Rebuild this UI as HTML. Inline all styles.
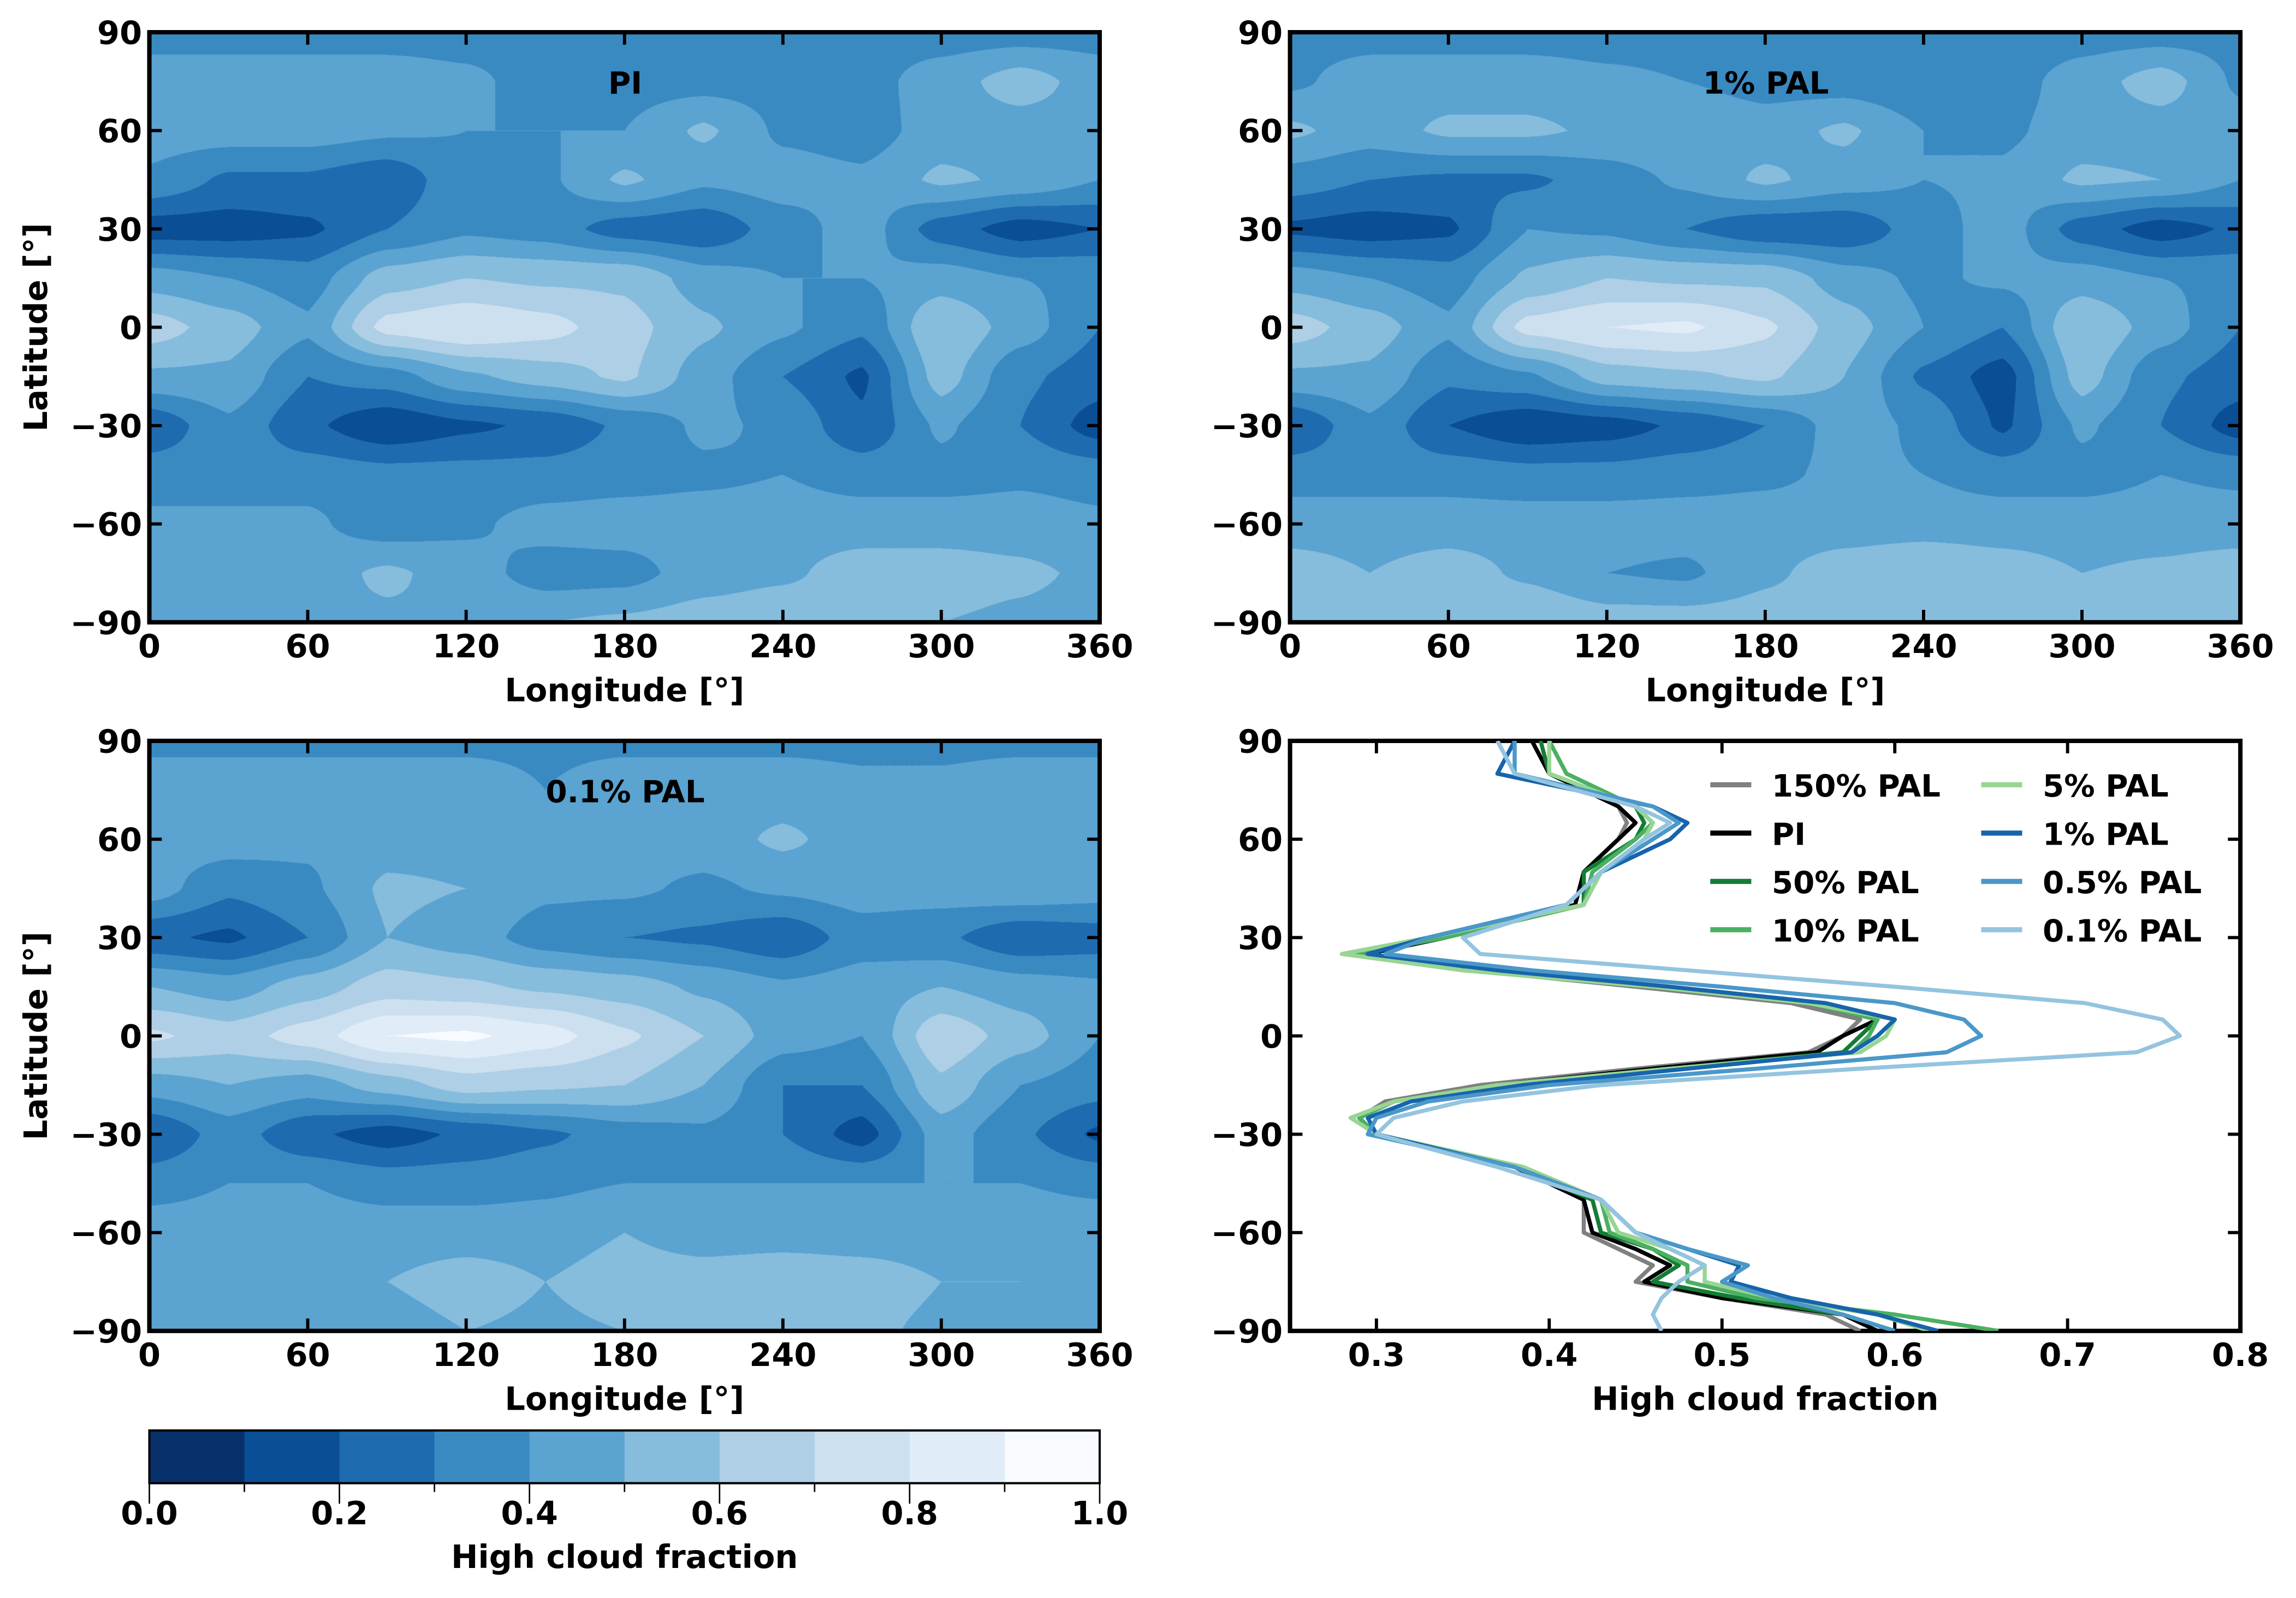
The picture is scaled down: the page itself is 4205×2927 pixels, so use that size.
<!DOCTYPE html>
<html><head><meta charset="utf-8"><style>
html,body{margin:0;padding:0;background:#fff;}
#wrap{position:relative;width:4205px;height:2927px;overflow:hidden;background:#fff;}
canvas{position:absolute;}
svg{position:absolute;left:0;top:0;}
text{font-family:"DejaVu Sans","Liberation Sans",sans-serif;font-weight:bold;fill:#000;}
</style></head><body>
<div id="wrap">
<canvas id="c1"></canvas>
<canvas id="c2"></canvas>
<canvas id="c3"></canvas>
<svg id="svg" width="4205" height="2927" viewBox="0 0 1568 1091.4"></svg>
</div>
<script>
// ---- data ----
const gridLons = [0,30,60,90,120,150,180,210,240,270,300,330,360];
const gridLats = [90,75,60,45,30,15,0,-15,-30,-45,-60,-75,-90];
const mapPI = [
[.36,.36,.36,.36,.36,.36,.36,.36,.35,.35,.35,.35,.36],
[.45,.45,.45,.45,.42,.36,.36,.36,.36,.36,.45,.55,.45],
[.45,.45,.45,.42,.40,.40,.40,.52,.38,.35,.45,.45,.45],
[.38,.28,.28,.22,.38,.38,.52,.42,.45,.42,.52,.48,.40],
[.15,.15,.18,.30,.38,.35,.25,.22,.35,.45,.25,.15,.20],
[.45,.40,.35,.55,.60,.58,.58,.45,.40,.40,.45,.40,.38],
[.65,.55,.42,.74,.80,.74,.64,.52,.42,.32,.60,.45,.30],
[.48,.48,.30,.35,.48,.55,.62,.45,.30,.18,.55,.32,.25],
[.22,.38,.22,.12,.18,.22,.32,.42,.38,.22,.42,.30,.15],
[.36,.36,.36,.34,.34,.34,.36,.38,.40,.36,.36,.38,.36],
[.42,.42,.42,.34,.38,.44,.45,.45,.45,.45,.45,.45,.42],
[.50,.48,.45,.52,.45,.35,.36,.45,.48,.55,.55,.52,.48],
[.45,.45,.48,.48,.50,.50,.52,.55,.58,.56,.50,.48,.45]];
const map1 = [
[.36,.36,.36,.36,.36,.36,.35,.35,.35,.32,.35,.35,.36],
[.38,.45,.45,.45,.42,.40,.36,.35,.32,.35,.45,.55,.38],
[.52,.45,.52,.52,.48,.50,.45,.52,.40,.38,.45,.45,.45],
[.35,.30,.28,.28,.35,.42,.52,.45,.40,.42,.52,.50,.40],
[.18,.15,.18,.40,.38,.30,.22,.22,.35,.45,.25,.15,.22],
[.45,.40,.35,.52,.60,.58,.58,.45,.38,.42,.45,.40,.38],
[.65,.55,.42,.74,.80,.82,.72,.55,.40,.30,.60,.45,.30],
[.48,.48,.32,.38,.55,.58,.62,.50,.28,.15,.55,.32,.25],
[.20,.38,.20,.12,.15,.22,.30,.45,.38,.18,.42,.30,.15],
[.36,.36,.36,.34,.34,.36,.38,.42,.40,.36,.36,.40,.38],
[.45,.45,.45,.45,.45,.45,.45,.45,.45,.45,.45,.45,.45],
[.55,.50,.55,.48,.40,.38,.48,.55,.60,.55,.50,.52,.55],
[.58,.58,.60,.60,.55,.55,.55,.58,.60,.58,.55,.55,.58]];
const map01 = [
[.38,.38,.38,.38,.38,.38,.38,.38,.38,.38,.38,.38,.38],
[.45,.45,.45,.45,.45,.40,.45,.45,.45,.42,.42,.45,.45],
[.45,.45,.42,.45,.45,.50,.45,.45,.52,.45,.45,.45,.45],
[.45,.32,.38,.52,.50,.42,.42,.38,.42,.45,.45,.48,.45],
[.22,.18,.30,.50,.45,.35,.30,.28,.22,.35,.32,.22,.25],
[.50,.45,.55,.65,.62,.58,.55,.48,.42,.45,.50,.45,.42],
[.72,.65,.75,.90,.92,.85,.72,.60,.45,.40,.68,.55,.40],
[.45,.50,.45,.55,.65,.62,.60,.50,.30,.30,.58,.40,.35],
[.20,.35,.22,.15,.22,.28,.35,.38,.30,.15,.45,.32,.18],
[.36,.40,.40,.36,.36,.38,.40,.40,.40,.40,.40,.40,.38],
[.45,.45,.45,.45,.45,.45,.50,.45,.45,.45,.45,.45,.45],
[.45,.50,.45,.50,.55,.50,.55,.55,.58,.55,.50,.50,.48],
[.42,.42,.42,.45,.50,.48,.50,.55,.55,.52,.48,.45,.42]];
const levelColors = ["#08306b","#0a4e96","#1f6bb0","#3a8ac2","#5ba3d1","#86bcdc","#aecfe5","#cde0f0","#e0ecf7","#f7fbff"];
const profLats = [90,80,70,65,60,50,40,30,25,20,15,10,5,0,-5,-10,-15,-20,-25,-30,-40,-50,-60,-65,-70,-75,-80,-85,-90];
const sPAL150 = [0.39,0.40,0.44,0.445,0.44,0.42,0.42,0.34,0.295,0.355,0.45,0.54,0.58,0.57,0.55,0.45,0.36,0.305,0.29,0.30,0.38,0.42,0.42,0.44,0.46,0.45,0.50,0.56,0.58];
const sPI = [0.39,0.40,0.44,0.45,0.44,0.42,0.415,0.34,0.295,0.36,0.46,0.55,0.59,0.57,0.555,0.46,0.37,0.31,0.29,0.30,0.38,0.42,0.425,0.45,0.47,0.455,0.50,0.57,0.59];
const sPAL50 = [0.395,0.40,0.45,0.455,0.45,0.42,0.42,0.34,0.29,0.355,0.46,0.55,0.59,0.58,0.57,0.47,0.37,0.31,0.29,0.30,0.38,0.425,0.43,0.46,0.475,0.46,0.51,0.57,0.60];
const sPAL10 = [0.40,0.41,0.45,0.46,0.45,0.425,0.42,0.34,0.285,0.35,0.46,0.55,0.59,0.585,0.575,0.47,0.37,0.31,0.29,0.30,0.385,0.43,0.435,0.46,0.48,0.48,0.52,0.60,0.66];
const sPAL5 = [0.40,0.40,0.45,0.46,0.455,0.43,0.42,0.33,0.28,0.35,0.46,0.55,0.60,0.595,0.58,0.47,0.37,0.31,0.285,0.30,0.385,0.43,0.44,0.47,0.49,0.49,0.53,0.59,0.62];
const sPAL1 = [0.38,0.37,0.46,0.48,0.47,0.43,0.41,0.33,0.295,0.37,0.47,0.56,0.60,0.59,0.575,0.48,0.385,0.32,0.295,0.30,0.38,0.43,0.45,0.48,0.51,0.505,0.54,0.59,0.625];
const sPAL05 = [0.38,0.38,0.46,0.475,0.46,0.43,0.41,0.33,0.305,0.39,0.50,0.60,0.64,0.65,0.63,0.52,0.40,0.33,0.30,0.295,0.38,0.43,0.45,0.48,0.515,0.50,0.53,0.57,0.60];
const sPAL01 = [0.37,0.38,0.45,0.47,0.455,0.43,0.41,0.35,0.36,0.48,0.60,0.71,0.755,0.765,0.74,0.58,0.43,0.35,0.31,0.30,0.37,0.43,0.45,0.47,0.49,0.475,0.465,0.46,0.465];
const seriesNames = ["150% PAL","PI","50% PAL","10% PAL","5% PAL","1% PAL","0.5% PAL","0.1% PAL"];
const seriesColors = ["#808080","#000000","#137d35","#4bb062","#98d594","#1764ab","#4a98c9","#94c4df"];
const lonTicks = [0,60,120,180,240,300,360];
const latTicks = [-90,-60,-30,0,30,60,90];
const fracTicks = [0.3,0.4,0.5,0.6,0.7,0.8];
const cbTicks = [0.0,0.2,0.4,0.6,0.8,1.0];

// ---- layout (display units; scale K to pixels) ----
const K = 4205/1568;
const NS = "http://www.w3.org/2000/svg";
const svg = document.getElementById('svg');
function el(tag, attrs, parent){ const e=document.createElementNS(NS,tag); for(const k in attrs) e.setAttribute(k,attrs[k]); (parent||svg).appendChild(e); return e; }
function txt(s,x,y,size,anchor,parent){ const t=el('text',{x:x,y:y,'font-size':size,'text-anchor':anchor||'middle'},parent); t.textContent=s; return t; }
const fmtNeg = v => (v<0?'\u2212'+Math.abs(v):String(v));

function sample(grid, lon, lat){
  let fx = lon/30, fy = (90-lat)/15;
  let i = Math.min(11, Math.floor(fx)), j = Math.min(11, Math.floor(fy));
  let tx = fx-i, ty = fy-j;
  tx = tx*tx*(3-2*tx)*0.5+tx*0.5; ty = ty*ty*(3-2*ty)*0.5+ty*0.5;
  const a=grid[j][i], b=grid[j][i+1], c=grid[j+1][i], d=grid[j+1][i+1];
  return a*(1-tx)*(1-ty)+b*tx*(1-ty)+c*(1-tx)*ty+d*tx*ty;
}
function hex(c){ return [parseInt(c.substr(1,2),16),parseInt(c.substr(3,2),16),parseInt(c.substr(5,2),16)]; }
const rgbLevels = levelColors.map(hex);

function drawMap(cid, grid, x0, y0, w, h){
  const cv = document.getElementById(cid);
  const W = Math.round(w*K), H = Math.round(h*K);
  cv.width=W; cv.height=H;
  cv.style.left = Math.round(x0*K)+'px'; cv.style.top = Math.round(y0*K)+'px';
  const ctx = cv.getContext('2d');
  const img = ctx.createImageData(W,H);
  for(let py=0;py<H;py++){
    const lat = 90 - 180*py/(H-1);
    for(let px=0;px<W;px++){
      const lon = 360*px/(W-1);
      let v = sample(grid, lon, lat);
      let lv = Math.max(0, Math.min(9, Math.floor(v*10)));
      const c = rgbLevels[lv]; const o=(py*W+px)*4;
      img.data[o]=c[0]; img.data[o+1]=c[1]; img.data[o+2]=c[2]; img.data[o+3]=255;
    }
  }
  ctx.putImageData(img,0,0);
}

function axesFrame(name, x0,y0,w,h, xt, xmin, xmax, xfmt, yt, showYLabel, xlabel){
  const g = el('g',{});
  
  
  const xs = v => x0 + (v-xmin)/(xmax-xmin)*w;
  const ys = v => y0 + (90-v)/180*h;
  xt.forEach(v=>{
    const X=xs(v);
    el('line',{x1:X,y1:y0+h,x2:X,y2:y0+h-8.5,stroke:'#000','stroke-width':2.2},g);
    el('line',{x1:X,y1:y0,x2:X,y2:y0+8.5,stroke:'#000','stroke-width':2.2},g);
    txt(xfmt(v),X,y0+h+24,22,'middle',g);
  });
  yt.forEach(v=>{
    const Y=ys(v);
    el('line',{x1:x0,y1:Y,x2:x0+8.5,y2:Y,stroke:'#000','stroke-width':2.2},g);
    el('line',{x1:x0+w,y1:Y,x2:x0+w-8.5,y2:Y,stroke:'#000','stroke-width':2.2},g);
    txt(fmtNeg(v),x0-5,Y+8,22,'end',g);
  });
  el('rect',{x:x0,y:y0,width:w,height:h,fill:'none',stroke:'#000','stroke-width':3},g);
  const xl = txt(xlabel, x0+w/2, y0+h+54, 22, 'middle', g);
  
  if(showYLabel){
    const yl = txt('Latitude [\u00b0]', 0,0,22,'middle',g);
    yl.setAttribute('transform','translate(32,'+(y0+h/2)+') rotate(-90)');
    
  }
  return {xs,ys};
}

// maps
const P = [[102,22],[881,22],[102,506]], MW=649, MH=403;
drawMap('c1', mapPI, P[0][0],P[0][1],MW,MH);
drawMap('c2', map1, P[1][0],P[1][1],MW,MH);
drawMap('c3', map01, P[2][0],P[2][1],MW,MH);
axesFrame('map-pi-axes',P[0][0],P[0][1],MW,MH,lonTicks,0,360,v=>String(v),latTicks,true,'Longitude [\u00b0]');
axesFrame('map-1pct-axes',P[1][0],P[1][1],MW,MH,lonTicks,0,360,v=>String(v),latTicks,false,'Longitude [\u00b0]');
axesFrame('map-0p1pct-axes',P[2][0],P[2][1],MW,MH,lonTicks,0,360,v=>String(v),latTicks,true,'Longitude [\u00b0]');
let t;
t=txt('PI',427,64,21);  
t=txt('1% PAL',1206,64,21);  
t=txt('0.1% PAL',427,548,21);  

// profile plot
const LX=881, LY=506;
const ax = axesFrame('profile-axes',LX,LY,MW,MH,fracTicks,0.25,0.8,v=>v.toFixed(1),latTicks,false,'High cloud fraction');
const series = [sPAL150,sPI,sPAL50,sPAL10,sPAL5,sPAL1,sPAL05,sPAL01];
const clip = el('clipPath',{id:'pclip'}); el('rect',{x:LX,y:LY,width:MW,height:MH},clip);
series.forEach((s,k)=>{
  const d = s.map((v,i)=>(i?'L':'M')+ax.xs(v).toFixed(2)+','+ax.ys(profLats[i]).toFixed(2)).join('');
  const p = el('path',{d:d,fill:'none',stroke:seriesColors[k],'stroke-width':2.8,'stroke-linejoin':'round','clip-path':'url(#pclip)'});
  
  
});
// legend
seriesNames.forEach((n,k)=>{
  const col = k<4?0:1, row=k%4;
  const lx = col? 1353:1168, ly = 536+row*33;
  const g = el('g',{});
  
  
  el('line',{x1:lx,y1:ly,x2:lx+28,y2:ly,stroke:seriesColors[k],'stroke-width':3.5},g);
  txt(n,lx+42,ly+8,21,'start',g);
});

// colorbar
const CX=102, CY=977, CW=649, CH=36;
const cb = el('g',{});


levelColors.forEach((c,i)=>{ el('rect',{x:CX+i*CW/10,y:CY,width:CW/10+0.5,height:CH,fill:c},cb); });
el('rect',{x:CX,y:CY,width:CW,height:CH,fill:'none',stroke:'#000','stroke-width':1.5},cb);
for(let i=0;i<=10;i++){ const X=CX+i*CW/10; el('line',{x1:X,y1:CY+CH,x2:X,y2:CY+CH+(i%2?6:14),stroke:'#000','stroke-width':1},cb); }
cbTicks.forEach(v=>{ txt(v.toFixed(1), CX+v*CW, CY+CH+28, 22,'middle',cb); });
t=txt('High cloud fraction',CX+CW/2,CY+CH+58,22,'middle',cb);


</script>
</body></html>
